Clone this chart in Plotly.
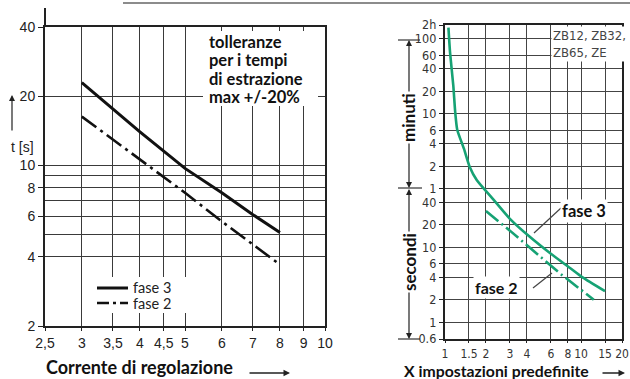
import math
import plotly.graph_objects as go

W, H = 630, 379

# ---------------- data: left chart ----------------
left_x = [3, 4, 5, 6, 7, 8]                      # Corrente di regolazione
left_fase3 = [22.9, 14.0, 9.7, 7.6, 6.1, 5.1]    # t [s]
left_fase2 = [16.3, 10.6, 7.6, 5.7, 4.5, 3.7]    # t [s]
left_xticks = [2.5, 3, 3.5, 4, 4.5, 5, 6, 7, 8, 9, 10]
left_xticktext = ["2,5", "3", "3,5", "4", "4,5", "5", "6", "7", "8", "9", "10"]
left_yticks = [2, 4, 6, 8, 10, 20, 40]
left_yminor = [5, 7, 9]
note_lines = ["tolleranze", "per i tempi", "di estrazione", "max +/-20%"]

# ---------------- data: right chart ----------------
right_x3 = [1.06, 1.09, 1.15, 1.19, 1.23, 1.38, 1.52, 1.71, 2.23, 3.0, 4.2, 6.0, 8.3, 10.2, 15]
right_y3 = [8500, 3900, 1450, 620, 370, 205, 118, 79, 45, 24, 13.8, 8.2, 5.3, 4.0, 2.6]  # seconds
right_x2 = [2.0, 3.0, 5.3, 7.1, 12.4]
right_y2 = [30.5, 16.7, 6.9, 4.4, 2.0]  # seconds
right_xticks = [1, 1.5, 2, 3, 4, 6, 8, 10, 15, 20]
sec_ticks = [0.6, 1, 2, 4, 6, 10, 20, 40]
min_ticks = [1, 2, 4, 6, 10, 20, 40, 60, 100]
y2_top_s = 9200  # top border of the chart, labelled "2h"

GREEN = "#16a274"
NARROW = "DejaVu Sans Condensed, Liberation Sans Narrow, sans-serif"
SANS = "Liberation Sans, Arial, sans-serif"
GEO = "Lato, Noto Sans, sans-serif"


def px(x):
    return x / W


def py(y):
    return 1 - y / H


fig = go.Figure()

fig.add_trace(go.Scatter(x=left_x, y=left_fase3, mode="lines", name="fase 3",
                         line=dict(color="#111", width=3), xaxis="x", yaxis="y"))
fig.add_trace(go.Scatter(x=left_x, y=left_fase2, mode="lines", name="fase 2",
                         line=dict(color="#111", width=2.6, dash="18px,5px,3px,5px"),
                         xaxis="x", yaxis="y"))
fig.add_trace(go.Scatter(x=right_x3, y=right_y3, mode="lines", name="fase 3 ",
                         line=dict(color=GREEN, width=2.6, shape="spline", smoothing=0.6),
                         xaxis="x2", yaxis="y2"))
fig.add_trace(go.Scatter(x=right_x2, y=right_y2, mode="lines", name="fase 2 ",
                         line=dict(color=GREEN, width=2.6, dash="16px,4px,2px,4px"),
                         xaxis="x2", yaxis="y2"))

grid_l = dict(showgrid=True, gridcolor="#3a3a3a", gridwidth=1.4, zeroline=False,
              showline=True, linecolor="#222", linewidth=2, mirror=True, automargin=False)

fig.update_layout(
    width=W, height=H, margin=dict(l=0, r=0, t=0, b=0, autoexpand=False),
    plot_bgcolor="white", paper_bgcolor="white", showlegend=False,
    xaxis=dict(type="log", range=[math.log10(2.5), 1], domain=[px(45), px(325)],
               anchor="y", tickvals=left_xticks, ticktext=left_xticktext, tickangle=0,
               ticks="outside", ticklen=3, tickcolor="#222",
               tickfont=dict(family=SANS, size=14, color="#222"), **grid_l),
    yaxis=dict(type="log", range=[math.log10(2), math.log10(40)], domain=[py(326), py(27)],
               anchor="x", tickvals=left_yticks, ticktext=[str(v) for v in left_yticks],
               ticks="outside", ticklen=5, tickcolor="#222",
               tickfont=dict(family=SANS, size=14, color="#222"),
               minor=dict(tickvals=left_yminor, showgrid=True, gridcolor="#3a3a3a",
                          gridwidth=1.4, ticks=""),
               **grid_l),
    xaxis2=dict(type="log", range=[0, math.log10(20)], domain=[px(445), px(622)],
                anchor="y2", tickvals=right_xticks, ticktext=[str(v) for v in right_xticks],
                tickangle=0, ticks="outside", ticklen=2, tickcolor="#222",
                tickfont=dict(family=NARROW, size=12, color="#333"),
                showgrid=True, gridcolor="#444", gridwidth=1.4, zeroline=False,
                showline=True, linecolor="#222", linewidth=2.4, mirror=True, automargin=False),
    yaxis2=dict(type="log", range=[math.log10(0.6), math.log10(y2_top_s)],
                domain=[py(339), py(25)], anchor="x2",
                tickvals=sec_ticks + [m * 60 for m in min_ticks] + [y2_top_s],
                ticktext=[str(v) for v in sec_ticks] + [str(m) for m in min_ticks] + ["2h"],
                ticks="outside", ticklen=4, tickcolor="#222",
                tickfont=dict(family=NARROW, size=12.5, color="#333"),
                showgrid=True, gridcolor="#444", gridwidth=1.4, zeroline=False,
                showline=True, linecolor="#222", linewidth=2.4, mirror=True, automargin=False),
)

shapes = [
    # top rule of the page
    dict(type="line", xref="paper", yref="paper", x0=px(123), x1=px(630), y0=py(3), y1=py(3),
         line=dict(color="#666", width=1.5)),
    # left axis extension above 40
    dict(type="line", xref="paper", yref="paper", x0=px(45), x1=px(45), y0=py(27), y1=py(8),
         line=dict(color="#222", width=2)),
    # white background behind the tolerance note
    dict(type="rect", xref="paper", yref="paper", x0=px(203), x1=px(318), y0=py(106), y1=py(31),
         fillcolor="white", line=dict(width=0), layer="above"),
    # legend box (left chart) with its line samples
    dict(type="rect", xref="paper", yref="paper", x0=px(95), x1=px(190), y0=py(313), y1=py(277),
         fillcolor="white", line=dict(width=0), layer="above"),
    dict(type="line", xref="paper", yref="paper", x0=px(97), x1=px(128), y0=py(288), y1=py(288),
         line=dict(color="#111", width=3), layer="above"),
    dict(type="line", xref="paper", yref="paper", x0=px(97), x1=px(128), y0=py(303), y1=py(303),
         line=dict(color="#111", width=2.6, dash="12px,4px,3px,4px"), layer="above"),
    # dimension ticks right chart
    dict(type="line", xref="paper", yref="paper", x0=px(398), x1=px(420), y0=py(40), y1=py(40),
         line=dict(color="#333", width=1.2)),
    dict(type="line", xref="paper", yref="paper", x0=px(398), x1=px(422), y0=py(188), y1=py(188),
         line=dict(color="#333", width=1.2)),
    dict(type="line", xref="paper", yref="paper", x0=px(398), x1=px(420), y0=py(339), y1=py(339),
         line=dict(color="#333", width=1.2)),
    # leader lines
    dict(type="line", xref="paper", yref="paper", x0=px(534), x1=px(561), y0=py(233), y1=py(208),
         line=dict(color="#444", width=1.2)),
    dict(type="line", xref="paper", yref="paper", x0=px(533), x1=px(552), y0=py(288), y1=py(273),
         line=dict(color="#444", width=1.2)),
]
fig.update_layout(shapes=shapes)


def arrow(x_tip, y_tip, dx, dy, width=1.2, head=2, size=1.0):
    return dict(x=px(x_tip), y=py(y_tip), xref="paper", yref="paper", text="",
                showarrow=True, ax=dx, ay=dy, arrowhead=head, arrowsize=size,
                arrowwidth=width, arrowcolor="#222")


def label(x, y, text, font, xanchor="center", yanchor="middle", **kw):
    return dict(x=px(x), y=py(y), xref="paper", yref="paper", text=text, showarrow=False,
                xanchor=xanchor, yanchor=yanchor, font=font, **kw)


BOLD = dict(family=GEO, color="#111", weight="bold")

ann = [
    # left chart
    label(22, 147, "t [s]", dict(family=SANS, size=14, color="#222")),
    arrow(12, 95, 0, 37),
]
for i, line in enumerate(note_lines):
    ann.append(label(207, 42 + i * 18.3, line, dict(BOLD, size=16.5), xanchor="left"))
ann += [
    label(131, 287, "fase 3", dict(family=GEO, size=14.5, color="#222"), xanchor="left"),
    label(131, 303, "fase 2", dict(family=GEO, size=14.5, color="#222"), xanchor="left"),
    label(44, 367, "Corrente di regolazione", dict(BOLD, size=18), xanchor="left"),
    arrow(290, 373, -42, 0, width=1.3),
    # right chart
    label(551, 26, "ZB12, ZB32,<br>ZB65, ZE", dict(family=NARROW, size=13, color="#444"),
          xanchor="left", yanchor="top", align="left", bgcolor="white"),
    arrow(409, 40, 0, 74),
    arrow(409, 188, 0, -74),
    arrow(409, 189, 0, 75),
    arrow(409, 339, 0, -75),
    label(409, 118, "minuti", dict(BOLD, size=17), textangle=-90, bgcolor="white"),
    label(409, 262, "secondi", dict(BOLD, size=17), textangle=-90, bgcolor="white"),
    label(402, 370, "X impostazioni predefinite", dict(BOLD, size=15.8), xanchor="left"),
    arrow(625, 373, -24, 0, width=1.3),
    label(584, 211, "fase 3", dict(BOLD, size=16.5), bgcolor="white"),
    label(496, 287, "fase 2", dict(BOLD, size=16), bgcolor="white"),
]
fig.update_layout(annotations=ann)

fig.write_html("out.html", config=dict(displayModeBar=False),
               post_script="document.body.style.margin='0';document.body.style.padding='0';")
